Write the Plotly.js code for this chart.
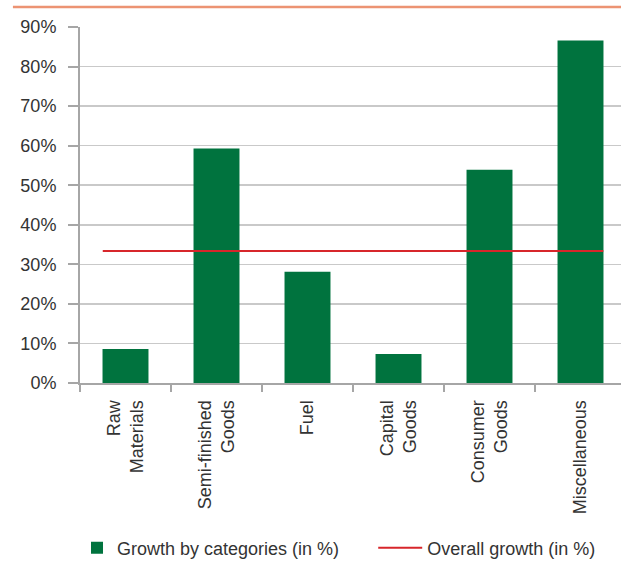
<!DOCTYPE html>
<html>
<head>
<meta charset="utf-8">
<script src="https://cdn.plot.ly/plotly-3.0.0.min.js"></script>
<style>html,body{margin:0;padding:0;background:#fff;}#chart{width:621px;height:567px;}</style>
</head>
<body>
<div id="chart"></div>
<script>
const categories = ["Raw<br>Materials", "Semi-finished<br>Goods", "Fuel", "Capital<br>Goods", "Consumer<br>Goods", "Miscellaneous"];
const growthByCategory = [8.6, 59.3, 28.1, 7.3, 53.9, 86.6];
const overallGrowth = 33.4;
const yTickVals = [0, 10, 20, 30, 40, 50, 60, 70, 80, 90];

const FONT = "'Liberation Sans', Arial, sans-serif";
const TXT = "#333333";
const AX = "#a6a6a6";
const FS = 18;

const n = categories.length;
const lineX = [-0.25, n - 0.75];

const traces = [
  {
    type: "bar",
    name: "Growth by categories (in %)",
    x: categories,
    y: growthByCategory,
    width: 0.505,
    marker: {color: "#00733e"},
    legend: "legend",
    hoverinfo: "y"
  },
  {
    type: "scatter",
    mode: "lines",
    name: "Overall growth (in %)",
    x: lineX,
    y: lineX.map(() => overallGrowth),
    xaxis: "x2",
    legend: "legend2",
    line: {color: "#d7262b", width: 2}
  }
];

const xr = [-0.5, n - 0.555];

const legendBase = {
  orientation: "h",
  xref: "container", yref: "container",
  xanchor: "left",
  y: 0.0335, yanchor: "middle",
  bgcolor: "rgba(0,0,0,0)",
  font: {family: FONT, size: FS, color: TXT}
};

const layout = {
  width: 621,
  height: 567,
  margin: {l: 80, r: 0, t: 27, b: 184},
  paper_bgcolor: "#ffffff",
  plot_bgcolor: "#ffffff",
  font: {family: FONT, size: FS, color: TXT},
  showlegend: true,
  legend: Object.assign({}, legendBase, {x: 0.124, itemwidth: 30}),
  legend2: Object.assign({}, legendBase, {x: 0.601, itemwidth: 44}),
  xaxis: {
    type: "category",
    range: xr,
    automargin: false,
    tickson: "boundaries",
    ticks: "outside",
    ticklen: 7,
    tickwidth: 2,
    tickcolor: AX,
    showline: true,
    linecolor: AX,
    linewidth: 2,
    showgrid: false,
    tickangle: -90,
    ticklabelstandoff: 8,
    tickfont: {family: FONT, size: FS, color: TXT},
    fixedrange: true
  },
  xaxis2: {
    overlaying: "x",
    range: xr,
    visible: false,
    fixedrange: true
  },
  yaxis: {
    range: [0, 90],
    automargin: false,
    tickvals: yTickVals,
    ticktext: yTickVals.map(v => v + "%"),
    ticks: "outside",
    ticklen: 10,
    tickwidth: 2,
    tickcolor: AX,
    showline: true,
    linecolor: AX,
    linewidth: 2,
    showgrid: true,
    gridcolor: "#c9c9c9",
    gridwidth: 1.5,
    zeroline: false,
    ticklabelstandoff: 8,
    tickfont: {family: FONT, size: FS, color: TXT},
    fixedrange: true
  },
  shapes: [
    {type: "line", xref: "paper", yref: "paper", x0: -0.124, x1: 1.0, y0: 1.056, y1: 1.056,
     line: {color: "#ec9373", width: 2.5}},
    {type: "line", xref: "paper", yref: "paper", x0: 0, x1: 0, y0: 0, y1: -0.022,
     line: {color: AX, width: 2}}
  ]
};

Plotly.newPlot("chart", traces, layout, {displayModeBar: false, staticPlot: true});
</script>
</body>
</html>
